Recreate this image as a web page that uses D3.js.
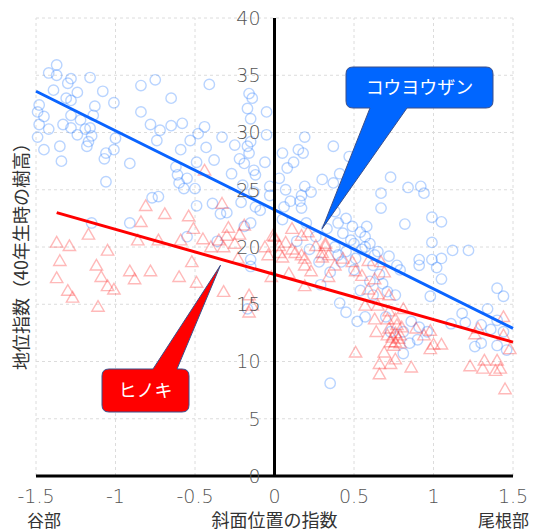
<!DOCTYPE html>
<html>
<head>
<meta charset="utf-8">
<script src="https://cdn.jsdelivr.net/npm/d3@7"></script>
<style>
  body { margin: 0; background: #fff; }
  svg { display: block; }
</style>
</head>
<body>
<div id="chart"></div>
<script>
// コウヨウザン (circles) [斜面位置の指数, 地位指数]
const koyozanPoints = [
  [-1.37,35.9],[-1.42,35.2],[-1.37,35.0],[-1.28,34.7],[-1.16,34.8],[-1.30,34.3],[-0.84,34.1],[-0.75,34.6],
  [-1.39,33.7],[-1.24,33.5],[-1.08,33.6],[-1.31,33.0],[-1.28,32.8],[-1.48,32.4],[-1.13,32.3],[-1.01,32.6],
  [-1.49,31.8],[-1.45,31.4],[-1.28,31.5],[-1.14,31.5],[-0.84,31.8],[-1.48,30.7],[-1.33,30.7],[-1.22,31.1],
  [-0.78,30.7],[-1.42,30.3],[-1.28,30.4],[-1.19,30.3],[-1.16,30.4],[-1.24,29.8],[-1.15,29.7],[-1.49,29.6],
  [-1.00,29.5],[-0.74,29.3],[-1.35,28.8],[-1.17,29.2],[-1.18,28.8],[-1.45,28.5],[-1.01,28.5],[-1.06,28.2],
  [-1.07,27.7],[-1.34,27.5],[-0.91,27.3],[-1.06,25.7],[-0.77,24.3],[-1.15,22.1],[-0.91,22.1],
  [-0.41,34.2],[-0.65,33.0],[-0.16,33.4],[-0.14,33.0],[-0.17,32.1],[-0.05,31.8],[-0.15,31.2],[-0.65,30.6],
  [-0.58,30.8],[-0.44,30.5],[-0.72,30.2],[-0.48,29.9],[-0.33,29.6],[-0.53,29.3],[-0.25,28.9],[-0.17,28.8],
  [-0.15,29.2],[-0.43,28.7],[-0.05,29.8],[-0.59,28.5],[-0.22,27.7],[-0.16,28.2],[-0.49,27.4],[-0.38,27.6],
  [-0.62,27.0],[-0.19,27.3],[-0.06,27.4],[-0.27,26.4],[-0.13,26.7],[-0.12,26.3],[-0.61,26.3],[-0.55,26.0],
  [-0.60,25.6],[-0.57,25.1],[-0.50,25.1],[-0.20,25.4],[-0.03,25.3],[-0.13,24.8],[-0.03,24.5],[-0.73,24.4],
  [-0.49,23.6],[-0.39,23.8],[-0.21,23.9],[-0.12,23.5],[-0.34,22.9],[-0.30,23.0],[-0.09,23.2],[-0.15,22.1],
  [-0.55,20.9],[-0.19,21.8],[-0.36,20.5],[-0.15,18.9],[-0.15,18.3],[-0.17,14.6],
  [0.19,29.6],[0.37,28.8],[0.05,28.2],[0.15,28.5],[0.18,28.2],[0.12,27.4],[0.08,26.9],[0.47,27.9],
  [0.41,26.4],[0.30,25.9],[0.37,25.6],[0.73,26.1],[0.03,26.0],[0.19,25.3],[0.07,25.0],[0.23,24.8],
  [0.17,24.5],[0.67,24.7],[0.10,24.0],[0.16,24.0],[0.06,23.5],[0.67,23.4],[0.17,23.4],[0.38,23.1],
  [0.45,22.5],[0.40,22.1],[0.05,22.4],[0.20,22.1],[0.49,21.8],[0.54,21.3],[0.43,21.2],[0.57,20.9],
  [0.60,20.3],[0.50,20.3],[0.65,19.6],[0.72,19.2],[0.38,20.0],[0.26,20.9],
  [0.41,15.1],[0.45,14.3],[0.52,13.5],[0.57,13.9],[0.29,16.7],[0.35,17.8],[0.42,18.7],[0.51,19.0],
  [0.57,20.0],[0.63,19.3],[0.54,16.2],[0.62,15.8],[0.71,16.1],[0.70,13.9],[0.73,12.6],[0.35,8.1],
  [0.84,25.2],[0.92,25.3],[0.94,24.7],[0.82,22.0],[0.99,22.6],[1.05,22.2],[0.99,20.4],[1.12,19.7],
  [1.22,19.7],[0.91,18.9],[0.99,18.9],[1.05,19.0],[1.02,18.2],[0.91,18.4],[0.77,18.4],[0.79,18.0],
  [1.05,17.2],[0.98,15.7],[0.76,15.8],[1.40,16.4],[1.44,15.7],[1.34,14.6],[1.18,14.2],[1.20,13.4],
  [1.11,13.3],[1.30,13.2],[1.36,12.8],[1.40,13.6],[1.44,12.6],[1.26,11.3],[1.30,11.6],[1.40,11.4],
  [1.46,11.0],[0.86,13.5],[0.91,13.0],[0.96,12.6],[0.90,11.9],[0.81,12.6],[0.81,10.7],[0.85,11.6],
  [0.45,19.6],[0.48,20.6],[0.55,19.8],[0.62,18.4],[0.66,17.6],[0.60,17.0],[0.68,16.8],[0.50,18.0],
  [0.40,19.3],[0.58,21.8],[0.22,19.8],[0.28,18.7],[0.14,20.5],[0.33,21.6]
];

// ヒノキ (triangles)
const hinokiPoints = [
  [-0.81,23.5],[-0.84,22.1],[-1.17,21.0],[-1.37,20.3],[-1.29,20.0],[-0.86,20.5],[-1.05,19.6],[-1.35,18.7],
  [-1.12,18.3],[-0.91,17.8],[-0.78,17.8],[-1.37,17.2],[-1.09,17.3],[-0.88,17.1],[-1.05,16.5],[-1.30,16.1],
  [-1.01,16.2],[-1.27,15.5],[-1.11,14.7],
  [-0.44,26.6],[-0.33,23.7],[-0.69,22.8],[-0.54,22.6],[-0.51,21.5],[-0.29,21.6],[-0.19,21.8],[-0.30,20.9],
  [-0.22,21.0],[-0.59,20.5],[-0.45,20.6],[-0.35,20.5],[-0.25,20.2],[-0.40,19.9],[-0.32,19.9],[-0.73,20.5],
  [-0.01,20.9],[-0.06,19.9],[-0.04,19.2],[-0.52,18.6],[-0.23,18.9],[-0.60,17.3],[-0.49,16.8],[-0.32,16.0],
  [-0.16,15.7],[-0.14,14.8],[-0.16,14.2],
  [0.11,21.5],[0.17,20.9],[0.21,21.2],[0.00,20.8],[0.07,20.3],[0.32,20.2],[0.30,19.4],[0.34,19.2],
  [0.19,18.9],[0.03,19.4],[0.13,19.4],[0.59,18.7],[0.49,18.6],[0.67,18.6],
  [0.03,20.0],[0.11,19.7],[0.26,20.0],[0.32,20.0],[0.05,19.0],[0.17,19.2],[0.30,19.0],[0.43,18.9],
  [0.19,18.3],[0.23,17.8],[0.38,18.3],[0.51,17.8],[0.09,17.6],[-0.02,17.3],[0.34,17.3],[0.19,16.5],
  [0.55,17.4],[0.63,17.1],[0.69,17.7],[0.59,16.2],[0.65,15.8],[0.72,15.7],[0.57,14.8],[0.65,14.8],
  [0.72,14.3],[0.63,13.6],[0.71,13.6],[0.64,12.5],[0.71,12.2],[0.73,11.6],[0.69,10.7],[0.51,10.7],
  [0.66,9.7],[0.73,9.7],[0.66,8.8],
  [0.81,14.5],[0.76,13.6],[0.89,12.8],[0.98,12.6],[0.94,12.2],[0.79,12.2],[0.76,11.6],[1.00,11.4],
  [1.05,11.4],[0.98,11.0],[0.86,9.4],[0.76,10.1],[1.44,13.8],[1.28,12.8],[1.26,12.3],[1.44,12.2],
  [1.48,11.0],[1.23,9.5],[1.32,10.0],[1.31,9.3],[1.40,10.0],[1.42,9.3],[1.39,9.1],[1.45,7.5],
  [0.74,12.0],[0.76,12.4],[0.78,11.9],[0.75,11.3],[0.80,12.9],[0.77,13.1],[0.72,12.8],[0.79,11.5]
];

// regression lines: [x start, x end], intercept, slope
const koyozanFit = { range: [-1.5, 1.5], a: 23.25, b: -6.9 };
const hinokiFit = { range: [-1.37, 1.5], a: 17.6, b: -3.94 };

const xTicks = [-1.5, -1, -0.5, 0, 0.5, 1, 1.5];
const yTicks = [0, 5, 10, 15, 20, 25, 30, 35, 40];
const xLabel = "斜面位置の指数";
const yLabel = "地位指数（40年生時の樹高）";
const xLeftNote = "谷部";
const xRightNote = "尾根部";

const width = 534, height = 532;
const font = "'Noto Sans CJK JP', 'Noto Sans', sans-serif";
const numFont = "'DejaVu Sans', sans-serif";

const svg = d3.select("#chart").append("svg")
  .attr("width", width)
  .attr("height", height);

const x = d3.scaleLinear().domain([-1.5, 1.5]).range([36, 513]);
const y = d3.scaleLinear().domain([0, 40]).range([476, 18]);

// grid
const grid = svg.append("g").attr("class", "grid");
grid.selectAll(".gx")
  .data(xTicks.filter(d => d !== 0))
  .join("line")
  .attr("x1", d => x(d)).attr("x2", d => x(d))
  .attr("y1", y(0)).attr("y2", y(40))
  .attr("stroke", "#dcdcdc")
  .attr("stroke-dasharray", "3,3");
grid.selectAll(".gy")
  .data(yTicks.filter(d => d !== 0))
  .join("line")
  .attr("x1", x(-1.5)).attr("x2", x(1.5))
  .attr("y1", d => y(d)).attr("y2", d => y(d))
  .attr("stroke", "#dcdcdc")
  .attr("stroke-dasharray", "3,3");

// points
svg.append("g")
  .selectAll("circle")
  .data(koyozanPoints)
  .join("circle")
  .attr("cx", d => x(d[0]))
  .attr("cy", d => y(d[1]))
  .attr("r", 5.2)
  .attr("fill", "none")
  .attr("stroke", "#2a7bff")
  .attr("stroke-opacity", 0.33)
  .attr("stroke-width", 1.4);

const tri = d3.symbol(d3.symbolTriangle).size(66);
svg.append("g")
  .selectAll("path")
  .data(hinokiPoints)
  .join("path")
  .attr("d", tri)
  .attr("transform", d => "translate(" + x(d[0]) + "," + y(d[1]) + ")")
  .attr("fill", "none")
  .attr("stroke", "#ff2a2a")
  .attr("stroke-opacity", 0.33)
  .attr("stroke-width", 1.4);

// regression lines
const fitLine = (fit) => fit.range.map(v => [x(v), y(fit.a + fit.b * v)]);
svg.append("path")
  .attr("d", d3.line()(fitLine(koyozanFit)))
  .attr("stroke", "#0a64ff")
  .attr("stroke-width", 3)
  .attr("fill", "none");
svg.append("path")
  .attr("d", d3.line()(fitLine(hinokiFit)))
  .attr("stroke", "#ff0000")
  .attr("stroke-width", 3)
  .attr("fill", "none");

// axes
svg.append("line")
  .attr("x1", x(0)).attr("x2", x(0))
  .attr("y1", y(0)).attr("y2", y(40))
  .attr("stroke", "#000").attr("stroke-width", 3);
svg.append("line")
  .attr("x1", x(-1.5)).attr("x2", x(1.5))
  .attr("y1", y(0)).attr("y2", y(0))
  .attr("stroke", "#000").attr("stroke-width", 3);

svg.append("g")
  .selectAll("text")
  .data(yTicks)
  .join("text")
  .attr("x", x(0) - 14)
  .attr("y", d => y(d))
  .attr("dy", "0.36em")
  .attr("text-anchor", "end")
  .attr("font-family", numFont)
  .attr("font-weight", 200)
  .attr("font-size", 19)
  .attr("fill", "#555")
  .text(d => d);

svg.append("g")
  .selectAll("text")
  .data(xTicks)
  .join("text")
  .attr("x", d => x(d))
  .attr("y", 503)
  .attr("text-anchor", "middle")
  .attr("font-family", numFont)
  .attr("font-weight", 200)
  .attr("font-size", 19)
  .attr("fill", "#555")
  .text(d => d);

// axis titles
svg.append("text")
  .attr("x", x(0)).attr("y", 527)
  .attr("text-anchor", "middle")
  .attr("font-family", font).attr("font-size", 18)
  .attr("fill", "#333")
  .text(xLabel);
svg.append("text")
  .attr("x", 27).attr("y", 527)
  .attr("font-family", font).attr("font-size", 17)
  .attr("fill", "#333")
  .text(xLeftNote);
svg.append("text")
  .attr("x", 529).attr("y", 527)
  .attr("text-anchor", "end")
  .attr("font-family", font).attr("font-size", 17)
  .attr("fill", "#333")
  .text(xRightNote);
svg.append("text")
  .attr("transform", "translate(28,252) rotate(-90)")
  .attr("text-anchor", "middle")
  .attr("font-family", font).attr("font-size", 18)
  .attr("fill", "#333")
  .text(yLabel);

// callouts
function callout(box, base, tip, color, label) {
  const r = 7, [x0, y0, x1, y1] = box;
  const [tx, ty] = [x(tip[0]), y(tip[1])];
  let d;
  if (base.side === "bottom") {
    d = `M${x0 + r},${y0} H${x1 - r} Q${x1},${y0} ${x1},${y0 + r} V${y1 - r} Q${x1},${y1} ${x1 - r},${y1}` +
        ` H${base.b} L${tx},${ty} L${base.a},${y1} H${x0 + r} Q${x0},${y1} ${x0},${y1 - r} V${y0 + r} Q${x0},${y0} ${x0 + r},${y0} Z`;
  } else {
    d = `M${x0 + r},${y0} H${base.a} L${tx},${ty} L${base.b},${y0} H${x1 - r} Q${x1},${y0} ${x1},${y0 + r} V${y1 - r}` +
        ` Q${x1},${y1} ${x1 - r},${y1} H${x0 + r} Q${x0},${y1} ${x0},${y1 - r} V${y0 + r} Q${x0},${y0} ${x0 + r},${y0} Z`;
  }
  svg.append("path")
    .attr("d", d)
    .attr("fill", color)
    .attr("stroke", "#3a4f8a")
    .attr("stroke-width", 1);
  svg.append("text")
    .attr("x", (x0 + x1) / 2).attr("y", (y0 + y1) / 2)
    .attr("dy", "0.36em")
    .attr("text-anchor", "middle")
    .attr("font-family", font).attr("font-size", 18)
    .attr("fill", "#fff")
    .text(label);
}

callout([346, 67, 493, 108], { side: "bottom", a: 370, b: 407 }, [0.30, 21.6], "#0066ff", "コウヨウザン");
callout([102, 369, 189, 412], { side: "top", a: 153, b: 177 }, [-0.34, 18.4], "#ff0000", "ヒノキ");
</script>
</body>
</html>
